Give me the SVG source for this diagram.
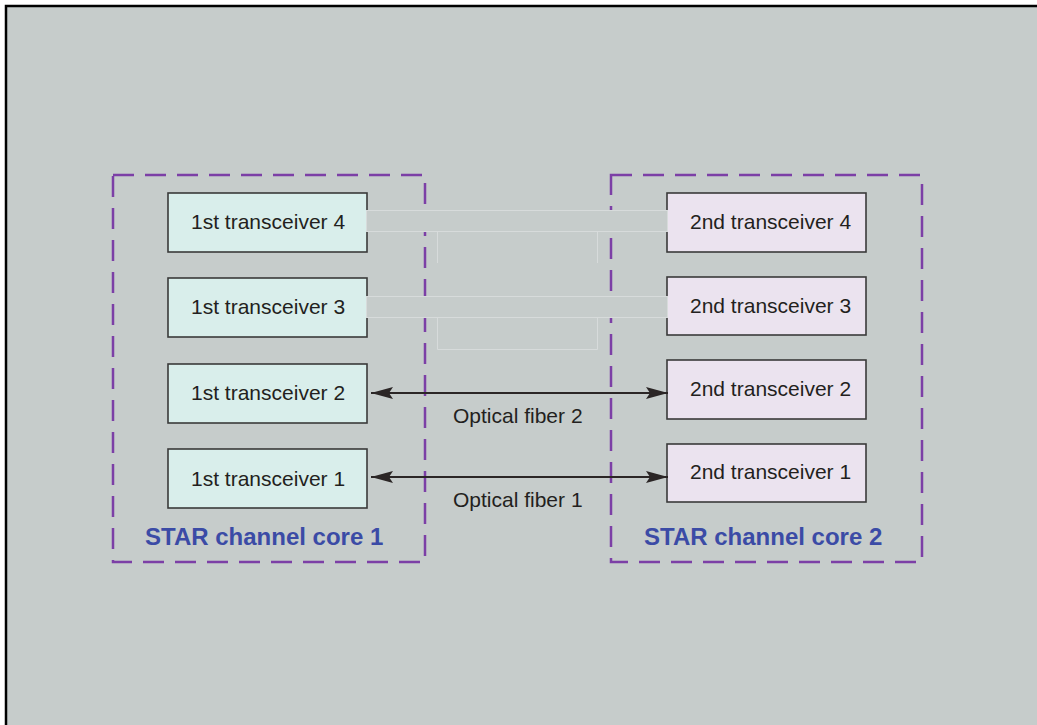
<svg xmlns="http://www.w3.org/2000/svg" width="1037" height="725" viewBox="0 0 1037 725">
<style>
.bg{fill:#c6cccb;stroke:#000;stroke-width:2.5}
.core{fill:none;stroke:#7c3fa6;stroke-width:2.5;stroke-dasharray:21 11}
.corelbl{font-family:"Liberation Sans",Arial,sans-serif;font-weight:bold;font-size:24px;fill:#3b4ba6}
.n1{fill:#d9eeeb;stroke:#3a3a3a;stroke-width:1.6}
.n2{fill:#ebe3ef;stroke:#3a3a3a;stroke-width:1.6}
.t{font-family:"Liberation Sans",Arial,sans-serif;font-size:21px;fill:#231f20}
.ghost{fill:#c6cccb;stroke:#d7dbdb;stroke-width:1}
.ghostl{fill:none;stroke:#d7dbdb;stroke-width:1}
.arr{stroke:#2b2626;stroke-width:2;fill:none;marker-start:url(#ah);marker-end:url(#ah)}
</style>
<defs>
<marker id="ah" markerUnits="userSpaceOnUse" markerWidth="24" markerHeight="14" viewBox="0 -7 24 14" refX="22" refY="0" orient="auto-start-reverse">
<path d="M0,-6 L22,0 L0,6 L4,0 Z" fill="#2b2626"/>
</marker>
</defs>
<rect x="0" y="0" width="1037" height="725" fill="#ffffff"/>
<rect class="bg" x="6" y="6" width="1040" height="730"/>

<g id="core1">
<rect class="core" x="113" y="175" width="312" height="387"/>
<text class="corelbl" x="145" y="545">STAR channel core 1</text>
</g>
<g id="core2">
<rect class="core" x="611" y="175" width="311" height="387"/>
<text class="corelbl" x="644" y="545">STAR channel core 2</text>
</g>

<g id="t1_4"><rect class="n1" x="168" y="193" width="199" height="59"/><text class="t" x="191" y="229">1st transceiver 4</text></g>
<g id="t1_3"><rect class="n1" x="168" y="278" width="199" height="59"/><text class="t" x="191" y="314">1st transceiver 3</text></g>
<g id="t1_2"><rect class="n1" x="168" y="364" width="199" height="59"/><text class="t" x="191" y="400">1st transceiver 2</text></g>
<g id="t1_1"><rect class="n1" x="168" y="449" width="199" height="59"/><text class="t" x="191" y="486">1st transceiver 1</text></g>

<g id="t2_4"><rect class="n2" x="667" y="193" width="199" height="59"/><text class="t" x="690" y="229">2nd transceiver 4</text></g>
<g id="t2_3"><rect class="n2" x="667" y="277" width="199" height="58"/><text class="t" x="690" y="313">2nd transceiver 3</text></g>
<g id="t2_2"><rect class="n2" x="667" y="360" width="199" height="59"/><text class="t" x="690" y="396">2nd transceiver 2</text></g>
<g id="t2_1"><rect class="n2" x="667" y="444" width="199" height="58"/><text class="t" x="690" y="479">2nd transceiver 1</text></g>

<g id="connectors">
<rect class="ghost" x="366.5" y="210.5" width="301" height="21"/>
<path class="ghostl" d="M437.5,231.5 V263 M597.5,231.5 V263"/>
<rect class="ghost" x="366.5" y="296.5" width="301" height="21"/>
<path class="ghostl" d="M437.5,317.5 V349.5 H597.5 V317.5"/>
<line class="arr" x1="371" y1="393" x2="668" y2="393"/>
<line class="arr" x1="371" y1="477" x2="668" y2="477"/>
<text class="t" x="453" y="423">Optical fiber 2</text>
<text class="t" x="453" y="507">Optical fiber 1</text>
</g>
</svg>
